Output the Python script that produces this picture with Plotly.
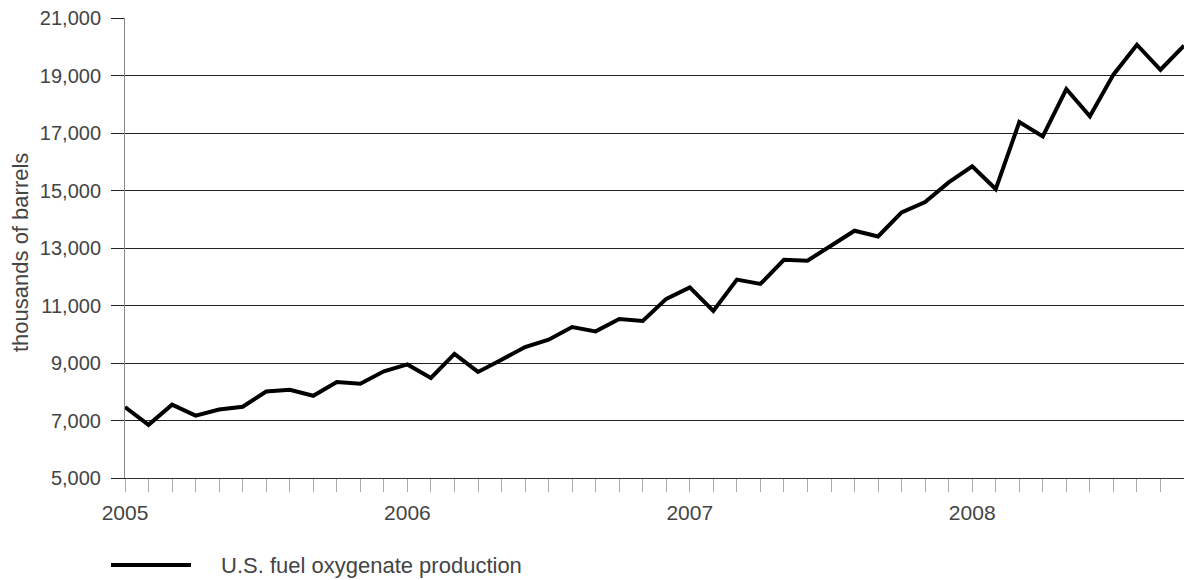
import plotly.graph_objects as go

months = [f"{y}-{m:02d}" for y in range(2005, 2009) for m in range(1, 13)][:46]
production = [7470, 6850, 7550, 7170, 7380, 7480, 8010, 8070, 7860, 8340, 8280, 8710,
              8950, 8480, 9320, 8690, 9115, 9557, 9810, 10250, 10100, 10530, 10460, 11230,
              11630, 10810, 11900, 11750, 12590, 12560, 13080, 13600, 13400, 14240, 14600, 15280,
              15840, 15050, 17380, 16880, 18530, 17580, 19030, 20070, 19200, 20040]
year_ticks = [0, 12, 24, 36]
year_labels = ["2005", "2006", "2007", "2008"]
y_ticks = list(range(5000, 21001, 2000))

font = "Liberation Sans, Arial, sans-serif"
txt = "#444"
x_idx = list(range(len(production)))

fig = go.Figure()
fig.add_trace(go.Scatter(
    x=x_idx, y=production, mode="lines",
    line=dict(color="black", width=4),
    name="U.S. fuel oxygenate production",
    customdata=months, hovertemplate="%{customdata}: %{y:,}<extra></extra>",
    showlegend=False, cliponaxis=False,
))

fig.update_layout(
    width=1184, height=580,
    margin=dict(l=125, r=0, t=18, b=102),
    paper_bgcolor="white", plot_bgcolor="white",
    font=dict(family=font, size=20, color=txt),
    showlegend=False,
)
fig.update_xaxes(
    range=[0, len(production) - 1],
    tickvals=year_ticks, ticktext=year_labels,
    ticks="outside", ticklen=13, tickcolor="#aaa", tickwidth=1,
    minor=dict(dtick=1, tick0=0, ticks="outside", ticklen=13, tickcolor="#aaa", tickwidth=1, showgrid=False),
    showgrid=False, zeroline=False,
    showline=True, linecolor="#333", linewidth=1,
    tickfont=dict(size=21, color=txt),
    ticklabelstandoff=3,
)
fig.update_yaxes(
    range=[5000, 21000],
    tickvals=y_ticks, tickformat=",",
    ticks="outside", ticklen=13, tickcolor="#222", tickwidth=1,
    showgrid=True, gridcolor="#222", gridwidth=1,
    zeroline=False,
    showline=True, linecolor="#888", linewidth=1,
    tickfont=dict(size=20, color=txt),
    ticklabelstandoff=6,
)

# y-axis title
fig.add_annotation(xref="paper", yref="paper",
                   x=(20 - 125) / 1059, y=(478 - 253) / 460,
                   xanchor="center", yanchor="middle", showarrow=False,
                   textangle=-90, text="thousands of barrels",
                   font=dict(size=22, color=txt, family=font))

# legend key
ly = -(565 - 478) / 460
fig.add_shape(type="line", xref="paper", yref="paper",
              x0=(111 - 125) / 1059, x1=(191 - 125) / 1059,
              y0=ly, y1=ly, line=dict(color="black", width=4))
fig.add_annotation(xref="paper", yref="paper",
                   x=(219 - 125) / 1059, y=ly,
                   xanchor="left", yanchor="middle", showarrow=False,
                   text="U.S. fuel oxygenate production",
                   font=dict(size=22, color=txt, family=font))

fig.write_html("out.html", config={"displayModeBar": False},
               post_script="document.body.style.margin='0';")
